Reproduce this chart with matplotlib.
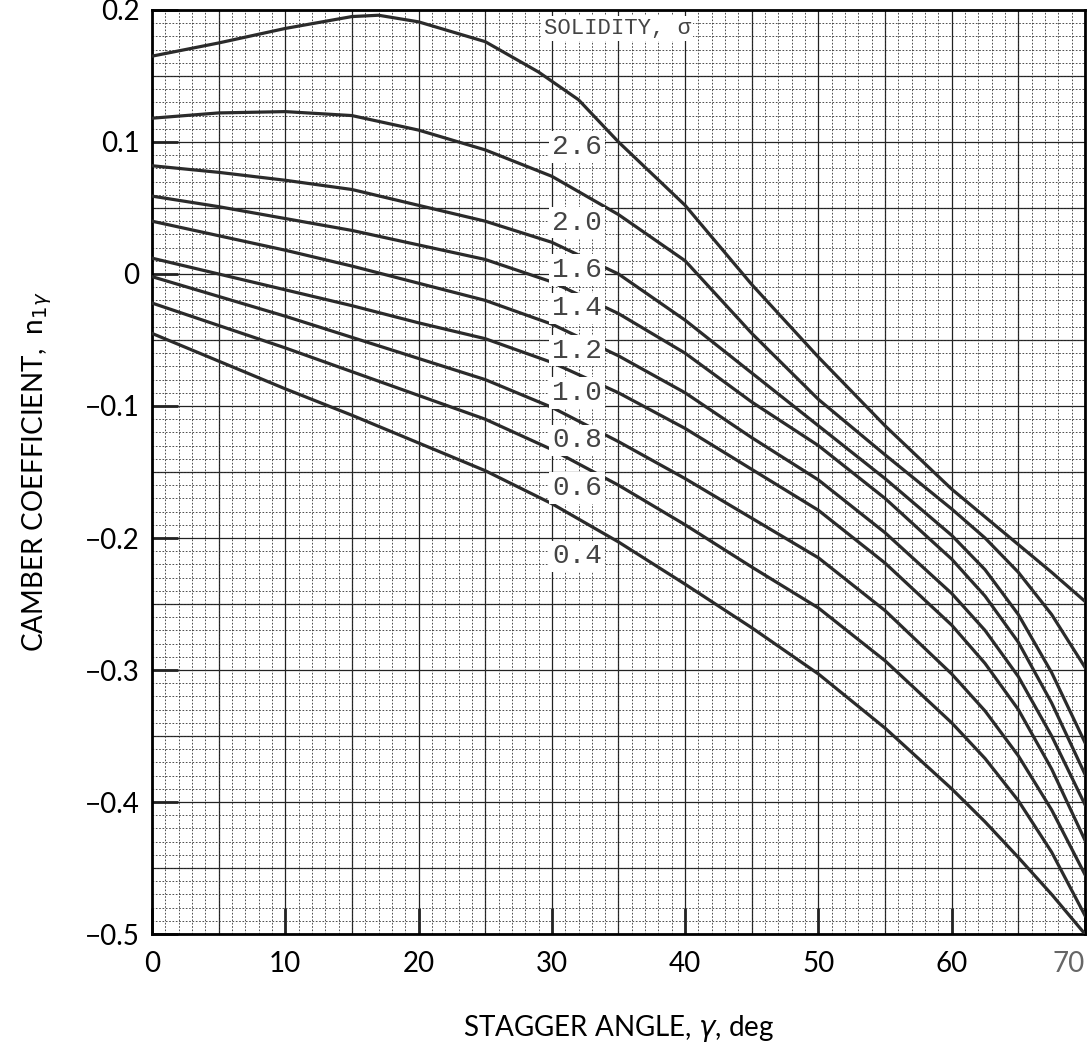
import numpy as np
import matplotlib
matplotlib.use("Agg")
import matplotlib.pyplot as plt
from matplotlib.ticker import MultipleLocator

plt.rcParams['font.family'] = ['Lato', 'DejaVu Sans']
plt.rcParams['mathtext.fontset'] = 'dejavusans'

# stagger angle, deg
gamma = [0, 5, 10, 15, 20, 25, 30, 35, 40, 45, 50, 55, 60, 62.5, 65, 67.5, 70]

# camber coefficient, one list per solidity
gamma_26 = [0, 5, 10, 15, 17, 20, 25, 29, 32, 35, 40, 45, 50, 55, 60, 62.5, 65, 67.5, 70]
n_26 = [0.165, 0.175, 0.186, 0.195, 0.196, 0.191, 0.176, 0.153, 0.132, 0.100,
        0.052, -0.008, -0.063, -0.115, -0.163, -0.184, -0.205, -0.226, -0.248]
n_20 = [0.118, 0.122, 0.123, 0.120, 0.109, 0.094, 0.074, 0.045, 0.010, -0.045,
        -0.095, -0.137, -0.178, -0.200, -0.226, -0.258, -0.298]
n_16 = [0.082, 0.077, 0.071, 0.064, 0.052, 0.040, 0.024, 0.000, -0.035, -0.075,
        -0.115, -0.155, -0.198, -0.224, -0.258, -0.302, -0.355]
n_14 = [0.059, 0.051, 0.042, 0.033, 0.022, 0.011, -0.006, -0.030, -0.060, -0.097,
        -0.130, -0.170, -0.216, -0.244, -0.279, -0.325, -0.379]
n_12 = [0.040, 0.029, 0.018, 0.006, -0.007, -0.020, -0.038, -0.062, -0.090, -0.124,
        -0.156, -0.196, -0.242, -0.270, -0.305, -0.350, -0.402]
n_10 = [0.012, 0.000, -0.012, -0.024, -0.037, -0.049, -0.067, -0.090, -0.117, -0.148,
        -0.179, -0.219, -0.266, -0.295, -0.330, -0.375, -0.429]
n_08 = [-0.002, -0.017, -0.032, -0.048, -0.064, -0.080, -0.101, -0.127, -0.155, -0.185,
        -0.215, -0.255, -0.303, -0.331, -0.365, -0.406, -0.455]
n_06 = [-0.022, -0.039, -0.056, -0.074, -0.092, -0.110, -0.133, -0.160, -0.190, -0.222,
        -0.253, -0.293, -0.340, -0.367, -0.399, -0.438, -0.486]
n_04 = [-0.045, -0.066, -0.087, -0.107, -0.128, -0.149, -0.174, -0.203, -0.235, -0.268,
        -0.303, -0.344, -0.390, -0.415, -0.442, -0.470, -0.500]

solidity_labels = ['2.6', '2.0', '1.6', '1.4', '1.2', '1.0', '0.8', '0.6', '0.4']
label_y = [0.096, 0.039, 0.003, -0.026, -0.058, -0.090, -0.126, -0.162, -0.214]
label_x = 31.9

y_ticks = [0.2, 0.1, 0, -0.1, -0.2, -0.3, -0.4, -0.5]
y_ticklabels = ['0.2', '0.1', '0', '\u22120.1', '\u22120.2', '\u22120.3', '\u22120.4', '\u22120.5']

curves = [(gamma_26, n_26), (gamma, n_20), (gamma, n_16), (gamma, n_14), (gamma, n_12),
          (gamma, n_10), (gamma, n_08), (gamma, n_06), (gamma, n_04)]

fig = plt.figure(figsize=(10.91, 10.49), dpi=100)
ax = fig.add_axes([0.1393, 0.1096, 0.8552, 0.8809])

# graph paper
ax.xaxis.set_minor_locator(MultipleLocator(1))
ax.yaxis.set_minor_locator(MultipleLocator(0.01))
for v in np.arange(0, 70.1, 5):
    ax.axvline(v, color='#222222', lw=0.9, zorder=1)
for v in np.arange(-0.5, 0.201, 0.05):
    ax.axhline(v, color='#222222', lw=0.9, zorder=1)
ax.grid(which='minor', color='#333333', lw=0.6, ls=(0, (2, 2)), zorder=0)

for xs, ys in curves:
    ax.plot(xs, ys, color='#2b2b2b', lw=2.3, zorder=3, solid_joinstyle='round')

for lab, y in zip(solidity_labels, label_y):
    ax.text(label_x, y, lab, family='Liberation Mono', fontsize=20, color='#444444',
            ha='center', va='center', zorder=4,
            bbox=dict(boxstyle='square,pad=0.1', fc='white', ec='none'))
ax.text(34.9, 0.186, 'SOLIDITY, σ', family=['Liberation Mono', 'DejaVu Sans'],
        fontsize=16, color='#444444', ha='center', va='center', zorder=4,
        bbox=dict(boxstyle='square,pad=0.1', fc='white', ec='none'))

ax.set_xlim(0, 70)
ax.set_ylim(-0.5, 0.2)
ax.set_xticks(range(0, 71, 10))
ax.set_yticks(y_ticks)
ax.set_yticklabels(y_ticklabels)
ax.tick_params(which='major', direction='in', length=19, width=2, labelsize=20,
               color='#222222')
ax.tick_params(axis='x', pad=12)
ax.tick_params(axis='y', pad=9)
ax.tick_params(which='minor', length=0)
xt = ax.get_xticklabels()
xt[-1].set_ha('right')
xt[-1].set_color('#666666')
for s in ax.spines.values():
    s.set_linewidth(2)

ax.set_xlabel(r'STAGGER ANGLE, $\gamma$, deg', fontsize=20, labelpad=26)
ax.set_ylabel(r'CAMBER COEFFICIENT,  n$_{1\gamma}$', fontsize=20, labelpad=22)

fig.savefig('out.png', dpi=100)
